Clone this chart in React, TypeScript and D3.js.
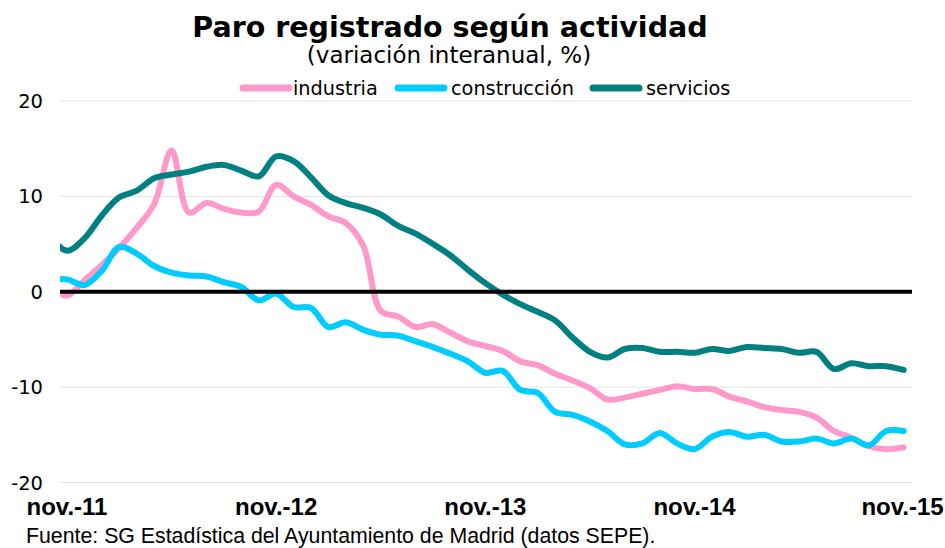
import React from "react";
import * as d3 from "d3";

// monthly points: oct-11 (index -1) ... nov-15 (index 48)
const monthIndex = d3.range(-1, 49);
const industria = [
  0.5, -0.4, 1.2, 2.8, 4.6, 6.7, 9.2, 14.8, 8.3, 9.3, 8.7, 8.3, 8.4,
  11.2, 10.0, 9.1, 7.9, 7.2, 4.8, -2.0, -2.6, -3.7, -3.4, -4.3, -5.2,
  -5.7, -6.2, -7.3, -7.7, -8.6, -9.3, -10.1, -11.3, -11.1, -10.7, -10.3, -9.9,
  -10.2, -10.2, -11.0, -11.5, -12.1, -12.4, -12.6, -13.2, -14.6, -15.3, -16.2, -16.5, -16.3,
];
const construccion = [
  1.2, 1.3, 0.7, 2.2, 4.7, 4.0, 2.7, 2.0, 1.7, 1.6, 1.0, 0.5, -0.9,
  -0.2, -1.6, -1.7, -3.7, -3.2, -4.0, -4.5, -4.6, -5.2, -5.8, -6.5, -7.3,
  -8.5, -8.3, -10.3, -10.6, -12.6, -12.9, -13.6, -14.6, -16.0, -15.9, -14.8, -15.9,
  -16.5, -15.2, -14.7, -15.2, -15.0, -15.7, -15.7, -15.4, -15.9, -15.4, -16.1, -14.6, -14.6,
];
const servicios = [
  5.8, 4.3, 5.6, 8.0, 9.9, 10.6, 11.9, 12.3, 12.6, 13.1, 13.3, 12.7, 12.1,
  14.2, 13.7, 12.0, 10.1, 9.3, 8.8, 8.1, 6.9, 6.1, 5.0, 3.8, 2.3,
  0.9, -0.3, -1.3, -2.1, -3.0, -4.8, -6.3, -6.9, -6.0, -5.9, -6.3, -6.3,
  -6.4, -6.0, -6.2, -5.8, -5.9, -6.0, -6.4, -6.3, -8.1, -7.5, -7.8, -7.8, -8.2,
];
const seriesNames = ["industria", "construcción", "servicios"];
const seriesColors = ["#FF99CC", "#00CCFF", "#008080"];
const yTicks = [20, 10, 0, -10, -20];
const xTickIndex = [0, 12, 24, 36, 48];
const xTickLabels = ["nov.-11", "nov.-12", "nov.-13", "nov.-14", "nov.-15"];

const W = 945;
const H = 548;
const plotLeft = 60;
const plotRight = 912;

export default function App() {
  const x = d3.scaleLinear().domain([0, 48]).range([67, 903.7]);
  const y = d3.scaleLinear().domain([-20, 20]).range([482.5, 101]);
  const seriesData = [industria, construccion, servicios];
  const line = d3
    .line<number>()
    .x((_, i) => x(monthIndex[i]))
    .y((d) => y(d))
    .curve(d3.curveCatmullRom.alpha(0.5));

  const legendItems = [
    { lx: 243, tx: 293 },
    { lx: 398, tx: 451 },
    { lx: 593, tx: 646 },
  ];

  return (
    <svg
      width={W}
      height={H}
      style={{ position: "absolute", left: 0, top: 0, background: "#fff" }}
      fontFamily="'DejaVu Sans', Verdana, sans-serif"
    >
      <defs>
        <clipPath id="plotclip">
          <rect x={plotLeft} y={60} width={plotRight - plotLeft} height={460} />
        </clipPath>
      </defs>
      <text x={450} y={37} textAnchor="middle" fontSize={28.5} fontWeight="bold" fill="#000">
        Paro registrado según actividad
      </text>
      <text x={449} y={63} textAnchor="middle" fontSize={23} fill="#000">
        (variación interanual, %)
      </text>
      {seriesNames.map((n, i) => (
        <g key={n}>
          <line
            x1={legendItems[i].lx}
            x2={legendItems[i].lx + 46}
            y1={88}
            y2={88}
            stroke={seriesColors[i]}
            strokeWidth={7}
            strokeLinecap="round"
          />
          <text x={legendItems[i].tx} y={95} fontSize={19.3} fill="#000">
            {n}
          </text>
        </g>
      ))}
      {yTicks.map((t) => (
        <g key={t}>
          {t !== 0 && (
            <line x1={plotLeft} x2={plotRight} y1={y(t)} y2={y(t)} stroke="#e3e3e3" strokeWidth={1} />
          )}
          <text x={43} y={y(t) + 7} textAnchor="end" fontSize={19.5} fill="#000">
            {t}
          </text>
        </g>
      ))}
      <g clipPath="url(#plotclip)">
        {seriesData.map((s, i) => (
          <path
            key={i}
            d={line(s) || ""}
            fill="none"
            stroke={seriesColors[i]}
            strokeWidth={6}
            strokeLinejoin="round"
            strokeLinecap="round"
          />
        ))}
      </g>
      <line x1={plotLeft} x2={plotRight} y1={y(0)} y2={y(0)} stroke="#000" strokeWidth={4} />
      {xTickIndex.map((ti, k) => (
        <text
          key={ti}
          x={Math.min(x(ti), 902.5)}
          y={515}
          textAnchor="middle"
          fontSize={24}
          fontWeight="bold"
          fontFamily="'Liberation Sans Narrow', 'Arial Narrow', sans-serif"
          fill="#000"
        >
          {xTickLabels[k]}
        </text>
      ))}
      <text
        x={26}
        y={542.5}
        fontSize={21.3}
        fontFamily="'Liberation Sans Narrow', 'Arial Narrow', sans-serif"
        fill="#000"
      >
        Fuente: SG Estadística del Ayuntamiento de Madrid (datos SEPE).
      </text>
    </svg>
  );
}
